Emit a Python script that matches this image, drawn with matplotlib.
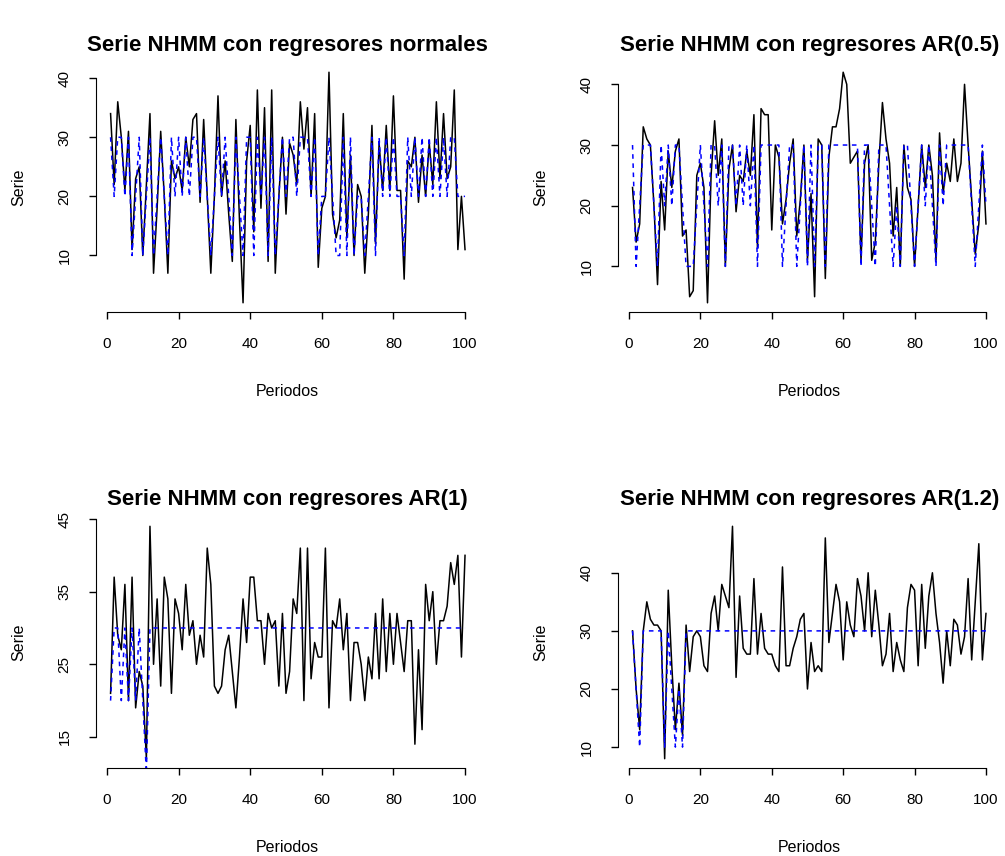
import numpy as np
import matplotlib
matplotlib.use("Agg")
import matplotlib.pyplot as plt

plt.rcParams['font.family'] = ['Liberation Sans', 'DejaVu Sans']

periodos = np.arange(1, 101)

# Serie observada y media del estado oculto, regresores normales
serie_normales = [34, 22, 36, 30, 21, 31, 11, 23, 25, 10,
                  22, 34, 7, 18, 31, 20, 7, 26, 23, 25,
                  21, 30, 25, 33, 34, 19, 33, 20, 7, 20,
                  37, 20, 26, 17, 9, 33, 16, 2, 26, 32,
                  14, 38, 18, 35, 9, 38, 7, 20, 30, 17,
                  29, 27, 22, 36, 28, 35, 20, 34, 8, 18,
                  20, 41, 17, 13, 16, 34, 13, 27, 10, 22,
                  20, 7, 17, 32, 12, 29, 21, 32, 21, 37,
                  21, 21, 6, 26, 25, 30, 19, 27, 20, 29,
                  22, 36, 23, 34, 23, 25, 38, 11, 20, 11]
estado_normales = [30, 20, 30, 30, 20, 30, 10, 20, 30, 10,
                   20, 30, 10, 20, 30, 20, 10, 30, 20, 30,
                   20, 30, 20, 30, 30, 20, 30, 20, 10, 20,
                   30, 20, 30, 20, 10, 30, 20, 10, 30, 30,
                   10, 30, 20, 30, 10, 30, 10, 20, 30, 20,
                   30, 30, 20, 30, 30, 30, 20, 30, 10, 20,
                   20, 30, 20, 10, 10, 30, 10, 30, 10, 20,
                   20, 10, 20, 30, 10, 30, 20, 30, 20, 30,
                   20, 20, 10, 30, 20, 30, 20, 30, 20, 30,
                   20, 30, 20, 30, 20, 30, 30, 20, 20, 20]

# AR(0.5)
serie_ar05 = [23, 14, 17, 33, 31, 30, 20, 7, 24, 16,
              29, 23, 29, 31, 15, 16, 5, 6, 25, 27,
              23, 4, 25, 34, 25, 31, 10, 26, 30, 19,
              25, 24, 29, 25, 35, 13, 36, 35, 35, 16,
              30, 28, 17, 21, 27, 31, 15, 21, 30, 11,
              22, 5, 31, 30, 8, 28, 33, 33, 36, 42,
              40, 27, 28, 29, 11, 27, 30, 11, 14, 27,
              37, 31, 27, 15, 23, 10, 30, 23, 21, 10,
              20, 30, 23, 30, 25, 11, 32, 22, 27, 24,
              31, 24, 27, 40, 30, 21, 12, 17, 29, 17]
estado_ar05 = [30, 10, 20, 30, 30, 30, 20, 10, 30, 20,
               30, 20, 30, 30, 20, 10, 10, 10, 20, 30,
               20, 10, 30, 30, 20, 30, 10, 30, 30, 20,
               30, 20, 30, 20, 30, 10, 30, 30, 30, 30,
               30, 30, 10, 20, 30, 30, 10, 20, 30, 10,
               30, 10, 30, 30, 10, 30, 30, 30, 30, 30,
               30, 30, 30, 30, 10, 30, 30, 20, 10, 30,
               30, 30, 20, 10, 20, 10, 30, 30, 20, 10,
               20, 30, 20, 30, 20, 10, 30, 20, 30, 30,
               30, 30, 30, 30, 30, 20, 10, 20, 30, 20]

# AR(1)
serie_ar1 = [21, 37, 29, 27, 36, 20, 37, 19, 24, 22,
             12, 44, 25, 34, 22, 37, 34, 21, 34, 32,
             27, 36, 29, 31, 25, 29, 26, 41, 36, 22,
             21, 22, 27, 29, 24, 19, 26, 34, 28, 37,
             37, 31, 31, 25, 32, 30, 31, 22, 32, 21,
             24, 34, 32, 41, 20, 41, 23, 28, 26, 26,
             41, 19, 31, 30, 34, 27, 32, 20, 28, 28,
             25, 20, 26, 23, 32, 23, 34, 24, 32, 25,
             32, 28, 24, 31, 31, 14, 27, 16, 36, 31,
             35, 25, 31, 31, 33, 39, 36, 40, 26, 40]
estado_ar1 = [20, 30, 30, 20, 30, 20, 30, 20, 30, 20,
              10] + [30] * 89

# AR(1.2)
serie_ar12 = [30, 20, 13, 30, 35, 32, 31, 31, 30, 8,
              37, 24, 13, 21, 12, 31, 23, 29, 30, 29,
              24, 23, 33, 36, 30, 38, 36, 34, 48, 22,
              36, 27, 26, 26, 39, 26, 33, 27, 26, 26,
              24, 23, 41, 24, 24, 27, 29, 32, 33, 20,
              28, 23, 24, 23, 46, 28, 33, 38, 35, 25,
              35, 31, 29, 39, 36, 30, 40, 29, 37, 31,
              24, 26, 33, 23, 28, 25, 23, 34, 38, 37,
              24, 38, 27, 36, 40, 33, 28, 21, 30, 24,
              32, 31, 26, 29, 39, 25, 35, 45, 25, 33]
estado_ar12 = [30, 20, 10, 30, 30, 30, 30, 30, 30, 10,
               30, 20, 10, 20, 10] + [30] * 85

titulos = ["Serie NHMM con regresores normales",
           "Serie NHMM con regresores AR(0.5)",
           "Serie NHMM con regresores AR(1)",
           "Serie NHMM con regresores AR(1.2)"]
yticks = [[10, 20, 30, 40], [10, 20, 30, 40],
          [15, 25, 35, 45], [10, 20, 30, 40]]
xticks = [0, 20, 40, 60, 80, 100]

W, H = 1005, 856
fig = plt.figure(figsize=(W / 100, H / 100), dpi=100)

# plot regions in pixels (left, right, top, bottom)
cols = [(96.4, 479.2), (618.4, 1000.1)]
rows = [(63, 312), (517, 768)]

paneles = [(serie_normales, estado_normales),
           (serie_ar05, estado_ar05),
           (serie_ar1, estado_ar1),
           (serie_ar12, estado_ar12)]

for i, (serie, estado) in enumerate(paneles):
    x0, x1 = cols[i % 2]
    y0, y1 = rows[i // 2]
    ax = fig.add_axes([x0 / W, 1 - y1 / H, (x1 - x0) / W, (y1 - y0) / H])

    ax.plot(periodos, serie, color='black', lw=1.1)
    ax.plot(periodos, estado, color='blue', lw=1.1, dashes=(3, 3))

    # R style limits: data range plus 4 %
    lo, hi = min(serie), max(serie)
    pad = 0.04 * (hi - lo)
    ax.set_ylim(lo - pad, hi + pad)
    ax.set_xlim(1 - 0.04 * 99, 100 + 0.04 * 99)

    for s in ['top', 'right']:
        ax.spines[s].set_visible(False)
    ax.spines['left'].set_bounds(yticks[i][0], yticks[i][-1])
    ax.spines['bottom'].set_bounds(0, 100)
    ax.set_xticks(xticks)
    ax.set_yticks(yticks[i])
    ax.set_yticklabels([str(v) for v in yticks[i]], rotation=90, va='center')
    ax.tick_params(length=5, width=1, labelsize=11, pad=13)

    cx = (x0 + x1) / 2
    fig.text(cx / W, 1 - (y0 - 18) / H, titulos[i], ha='center', va='center',
             fontsize=16, fontweight='bold')
    fig.text(cx / W, 1 - (y1 + 79) / H, "Periodos", ha='center', va='center',
             fontsize=11.5)
    fig.text((x0 - 78) / W, 1 - ((y0 + y1) / 2) / H, "Serie", ha='center',
             va='center', rotation=90, fontsize=11.5)

fig.savefig("out.png", dpi=100)
